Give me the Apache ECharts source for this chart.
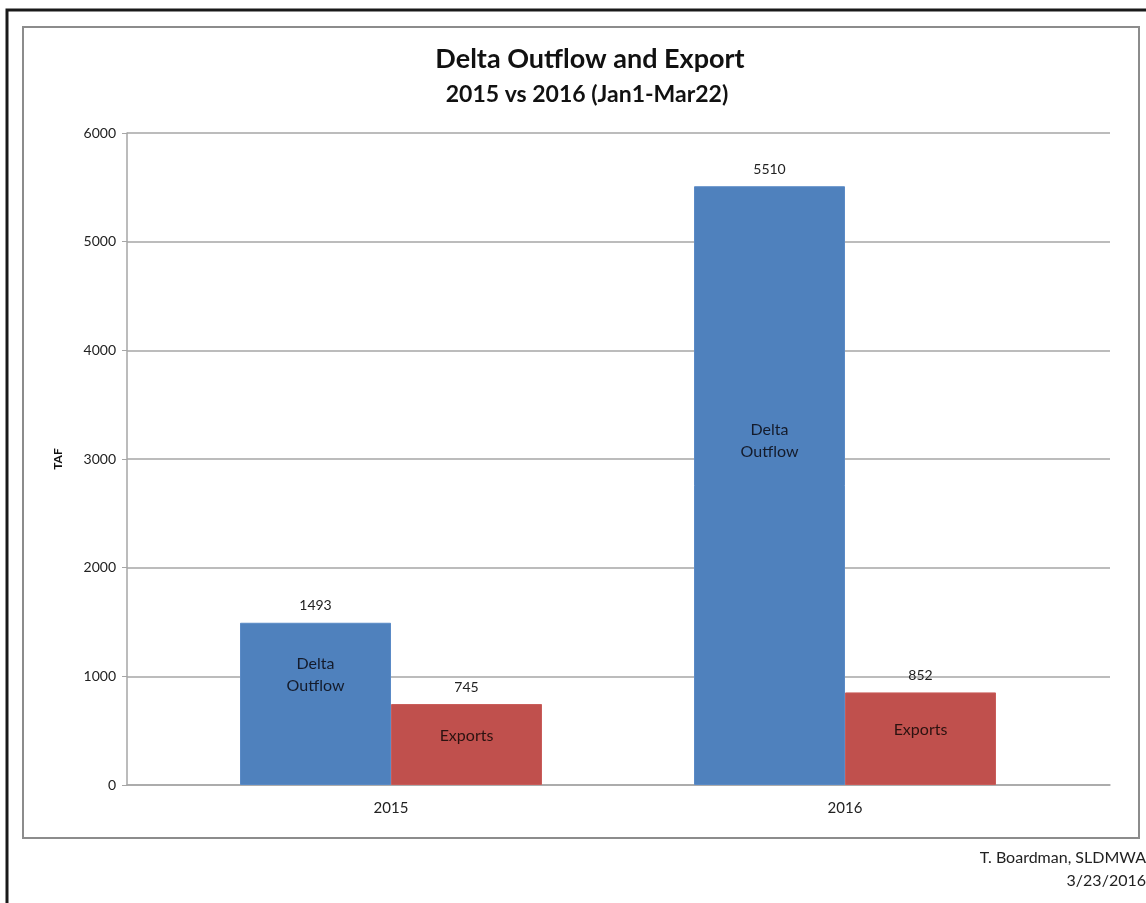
<!DOCTYPE html>
<html>
<head>
<meta charset="utf-8">
<script src="https://cdn.jsdelivr.net/npm/echarts@6/dist/echarts.min.js"></script>
<style>
  html, body { margin: 0; padding: 0; background: #fff; }
  #chart { width: 1146px; height: 903px; }
</style>
</head>
<body>
<div id="chart"></div>
<script>
// data
const years = ['2015', '2016'];
const deltaOutflow = [1493, 5510];
const exportsTaf = [745, 852];
const yTicks = [0, 1000, 2000, 3000, 4000, 5000, 6000];

const fontFamily = 'Lato, "Open Sans", sans-serif';
const gridLineColor = '#a6a6a6';
const blue = '#4f81bd';
const red = '#c0504d';

const chart = echarts.init(document.getElementById('chart'));

// common bar geometry
const barCommon = {
  type: 'bar',
  barWidth: 151,
  barGap: '0%',
  xAxisIndex: 1,
  yAxisIndex: 1
};

const option = {
  animation: false,
  backgroundColor: '#fff',
  title: [
    {
      text: 'Delta Outflow and Export',
      left: 585, top: 41, textAlign: 'center',
      textStyle: { fontFamily, fontWeight: 'bold', fontSize: 27, color: '#111' }
    },
    {
      text: '2015 vs 2016 (Jan1-Mar22)',
      left: 582, top: 78, textAlign: 'center',
      textStyle: { fontFamily, fontWeight: 'bold', fontSize: 23, color: '#111' }
    }
  ],
  graphic: [
    { type: 'rect', shape: { x: 7, y: 10, width: 1160, height: 920 },
      style: { fill: 'none', stroke: '#1a1a1a', lineWidth: 3 }, silent: true },
    { type: 'rect', shape: { x: 23, y: 27, width: 1116, height: 811 },
      style: { fill: 'none', stroke: '#8c8c8c', lineWidth: 2 }, silent: true },
    { type: 'text', right: 0, top: 850,
      style: { text: 'T. Boardman, SLDMWA', fontFamily, fontSize: 16, fill: '#222' } },
    { type: 'text', right: 0, top: 873,
      style: { text: '3/23/2016', fontFamily, fontSize: 16, fill: '#222' } }
  ],
  grid: [
    { left: 127, top: 133, width: 983, height: 652 },
    { left: 164, top: 133, width: 908, height: 652 }
  ],
  xAxis: [
    {
      gridIndex: 0, type: 'category', data: [''],
      axisLine: { show: true, lineStyle: { color: gridLineColor, width: 1.5 } },
      axisTick: { show: false }, axisLabel: { show: false }
    },
    {
      gridIndex: 1, type: 'category', data: years,
      axisLine: { show: false }, axisTick: { show: false },
      axisLabel: { margin: 16, fontFamily, fontSize: 15, color: '#222' }
    },
    {
      gridIndex: 1, type: 'category', data: years, position: 'top', show: false
    }
  ],
  yAxis: [
    {
      gridIndex: 0, type: 'value', min: yTicks[0], max: yTicks[yTicks.length - 1], interval: 1000,
      name: 'TAF', nameLocation: 'middle', nameRotate: 90, nameGap: 63,
      nameTextStyle: { fontFamily, fontWeight: 'bold', fontSize: 12, color: '#111' },
      axisLine: { show: true, lineStyle: { color: gridLineColor, width: 1.5 } },
      axisTick: { show: true, length: 5, lineStyle: { color: gridLineColor } },
      axisLabel: { margin: 11, fontFamily, fontSize: 14, color: '#222', formatter: (v) => String(v) },
      splitLine: { show: true, lineStyle: { color: gridLineColor, width: 1.5 } }
    },
    {
      gridIndex: 1, type: 'value', min: yTicks[0], max: yTicks[yTicks.length - 1], show: false
    }
  ],
  series: [
    {
      ...barCommon,
      name: 'Delta Outflow',
      data: deltaOutflow,
      itemStyle: { color: blue, borderColor: '#5a8ac6', borderWidth: 1 },
      label: { show: true, position: 'top', distance: 10, fontFamily, fontSize: 14, color: '#222' }
    },
    {
      ...barCommon,
      name: 'Exports',
      data: exportsTaf,
      itemStyle: { color: red, borderColor: '#c95c59', borderWidth: 1 },
      label: { show: true, position: 'top', distance: 10, fontFamily, fontSize: 14, color: '#222' }
    },
    // overlay bars for the names written inside each bar
    {
      ...barCommon,
      xAxisIndex: 2,
      name: 'Delta Outflow label',
      data: deltaOutflow.map((v, i) => ({ value: v, label: { offset: [0, i === 0 ? -29 : -45] } })),
      itemStyle: { color: 'rgba(0,0,0,0)' },
      label: {
        show: true, position: 'inside', formatter: 'Delta\nOutflow',
        fontFamily, fontSize: 16, lineHeight: 22, color: '#141b2b'
      },
      z: 5
    },
    {
      ...barCommon,
      xAxisIndex: 2,
      name: 'Exports label',
      data: exportsTaf.map((v) => ({ value: v, label: { offset: [0, -9] } })),
      itemStyle: { color: 'rgba(0,0,0,0)' },
      label: {
        show: true, position: 'inside', formatter: 'Exports',
        fontFamily, fontSize: 16, color: '#2b1210'
      },
      z: 5
    }
  ]
};

chart.setOption(option);
</script>
</body>
</html>
